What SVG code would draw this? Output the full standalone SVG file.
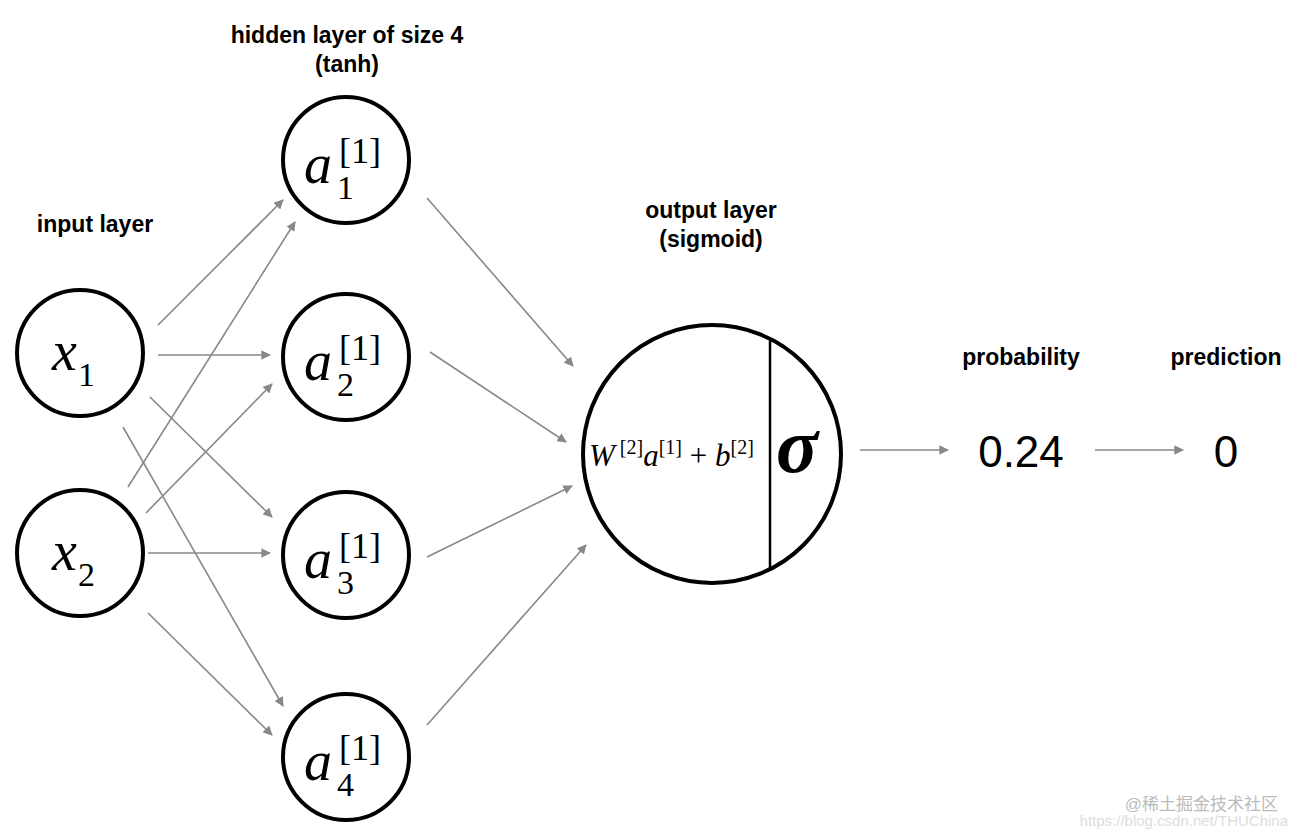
<svg xmlns="http://www.w3.org/2000/svg" width="1298" height="838" viewBox="0 0 1298 838">
<defs>
<style>
.n{fill:#fff;stroke:#000;stroke-width:4}
.c line{stroke:#888;stroke-width:1.6;marker-end:url(#ah)}
.m{font-family:"Liberation Serif",serif}
.l{font-family:"Liberation Sans",Arial,sans-serif;font-weight:bold;font-size:23px;text-anchor:middle}
.v{font-family:"Liberation Sans",Arial,sans-serif;font-size:44px;text-anchor:middle}
</style>
<marker id="ah" viewBox="0 0 10 10" refX="9" refY="5" markerWidth="6" markerHeight="6" orient="auto"><path d="M0,0L10,5L0,10z" fill="#888"/></marker>
</defs>
<rect width="1298" height="838" fill="#fff"/>
<text class="l" x="347" y="43">hidden layer of size 4</text>
<text class="l" x="347" y="72">(tanh)</text>
<text class="l" x="95" y="232">input layer</text>
<text class="l" x="711" y="218">output layer</text>
<text class="l" x="711" y="247">(sigmoid)</text>
<text class="l" x="1021" y="365">probability</text>
<text class="l" x="1226" y="365">prediction</text>
<g class="c">
<line x1="158" y1="325" x2="283" y2="200"/>
<line x1="158" y1="355" x2="270" y2="355"/>
<line x1="150" y1="397" x2="272" y2="517"/>
<line x1="123" y1="427" x2="283" y2="706"/>
<line x1="128" y1="487" x2="295" y2="222"/>
<line x1="146" y1="513" x2="272" y2="384"/>
<line x1="148" y1="553" x2="270" y2="553"/>
<line x1="148" y1="613" x2="272" y2="735"/>
<line x1="427" y1="198" x2="573" y2="366"/>
<line x1="430" y1="352" x2="566" y2="442"/>
<line x1="427" y1="557" x2="572" y2="486"/>
<line x1="427" y1="725" x2="586" y2="545"/>
<line x1="860" y1="450" x2="948" y2="450"/>
<line x1="1095" y1="450" x2="1183" y2="450"/>
</g>
<g id="x1"><circle class="n" cx="80" cy="353" r="63"/><text class="m" x="52" y="370" font-size="56" font-style="italic">x</text><text class="m" x="78" y="386" font-size="34">1</text></g>
<g id="x2"><circle class="n" cx="80" cy="553" r="63"/><text class="m" x="52" y="570" font-size="56" font-style="italic">x</text><text class="m" x="78" y="586" font-size="34">2</text></g>
<g id="a1"><circle class="n" cx="346" cy="160" r="63"/><text class="m" x="304" y="183" font-size="56" font-style="italic">a</text><text class="m" x="339" y="163" font-size="36">[1]</text><text class="m" x="337" y="199" font-size="34">1</text></g>
<g id="a2"><circle class="n" cx="346" cy="357" r="63"/><text class="m" x="304" y="380" font-size="56" font-style="italic">a</text><text class="m" x="339" y="360" font-size="36">[1]</text><text class="m" x="337" y="396" font-size="34">2</text></g>
<g id="a3"><circle class="n" cx="346" cy="555" r="63"/><text class="m" x="304" y="578" font-size="56" font-style="italic">a</text><text class="m" x="339" y="558" font-size="36">[1]</text><text class="m" x="337" y="594" font-size="34">3</text></g>
<g id="a4"><circle class="n" cx="346" cy="757" r="63"/><text class="m" x="304" y="780" font-size="56" font-style="italic">a</text><text class="m" x="339" y="760" font-size="36">[1]</text><text class="m" x="337" y="796" font-size="34">4</text></g>
<g id="out"><circle class="n" cx="712" cy="454" r="129"/><line x1="770" y1="341" x2="770" y2="568" stroke="#000" stroke-width="2.5"/>
<text class="m" x="589" y="466" font-size="31"><tspan font-style="italic">W</tspan><tspan font-size="20" dy="-12"> [2]</tspan><tspan font-style="italic" dy="12">a</tspan><tspan font-size="20" dy="-12">[1]</tspan><tspan dy="12"> + </tspan><tspan font-style="italic">b</tspan><tspan font-size="20" dy="-12">[2]</tspan></text>
<text class="m" x="776" y="472" font-size="78" font-style="italic" font-weight="bold">σ</text></g>
<g id="p"><text class="v" x="1021" y="467">0.24</text></g>
<g id="pred"><text class="v" x="1226" y="467">0</text></g>
<text x="1278" y="810" font-family="'Liberation Sans','Noto Sans CJK SC',sans-serif" font-size="17" fill="#bbb" text-anchor="end">@稀土掘金技术社区</text>
<text x="1288" y="826" font-family="'Liberation Sans',sans-serif" font-size="15" fill="#ddd" text-anchor="end">https://blog.csdn.net/THUChina</text>
</svg>
